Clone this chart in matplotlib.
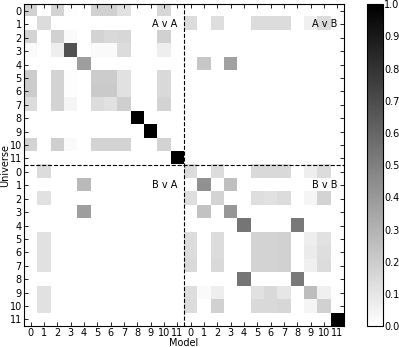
import numpy as np
import matplotlib
matplotlib.use('Agg')
import matplotlib.pyplot as plt

# class labels for the two universes (A: 0-11, B: 0-11)
labels = [str(i) for i in range(12)] * 2

# A v A block (universe A rows, model A columns)
a_v_a = [
    [0.18, 0, 0.17, 0.01, 0, 0.18, 0.18, 0.12, 0, 0, 0.16, 0],
    [0, 0.14, 0, 0, 0, 0, 0, 0, 0, 0, 0, 0],
    [0.17, 0, 0.18, 0.02, 0, 0.17, 0.15, 0.16, 0, 0, 0.18, 0],
    [0.02, 0, 0.07, 0.68, 0, 0.02, 0.02, 0.14, 0, 0, 0.07, 0],
    [0, 0, 0, 0, 0.38, 0, 0, 0, 0, 0, 0, 0],
    [0.20, 0, 0.17, 0.01, 0, 0.20, 0.20, 0.12, 0, 0, 0.15, 0],
    [0.20, 0, 0.17, 0.01, 0, 0.21, 0.21, 0.12, 0, 0, 0.15, 0],
    [0.14, 0, 0.17, 0.04, 0, 0.14, 0.12, 0.19, 0, 0, 0.17, 0],
    [0, 0, 0, 0, 0, 0, 0, 0, 1.0, 0, 0, 0],
    [0, 0, 0, 0, 0, 0, 0, 0, 0, 1.0, 0, 0],
    [0.17, 0, 0.19, 0.02, 0, 0.17, 0.17, 0.17, 0, 0, 0.17, 0],
    [0, 0, 0, 0, 0, 0, 0, 0, 0, 0, 0, 1.0],
]

# A v B block
a_v_b = [
    [0, 0, 0, 0, 0, 0, 0, 0, 0, 0, 0, 0],
    [0.14, 0, 0.13, 0, 0, 0.14, 0.14, 0.14, 0, 0.06, 0.14, 0],
    [0, 0, 0, 0, 0, 0, 0, 0, 0, 0, 0, 0],
    [0, 0, 0, 0, 0, 0, 0, 0, 0, 0, 0, 0],
    [0, 0.22, 0, 0.37, 0, 0, 0, 0, 0, 0, 0, 0],
    [0, 0, 0, 0, 0, 0, 0, 0, 0, 0, 0, 0],
    [0, 0, 0, 0, 0, 0, 0, 0, 0, 0, 0, 0],
    [0, 0, 0, 0, 0, 0, 0, 0, 0, 0, 0, 0],
    [0, 0, 0, 0, 0, 0, 0, 0, 0, 0, 0, 0],
    [0, 0, 0, 0, 0, 0, 0, 0, 0, 0, 0, 0],
    [0, 0, 0, 0, 0, 0, 0, 0, 0, 0, 0, 0],
    [0, 0, 0, 0, 0, 0, 0, 0, 0, 0, 0, 0],
]

# B v A block
b_v_a = [
    [0, 0.14, 0, 0, 0, 0, 0, 0, 0, 0, 0, 0],
    [0, 0, 0, 0, 0.27, 0, 0, 0, 0, 0, 0, 0],
    [0, 0.12, 0, 0, 0, 0, 0, 0, 0, 0, 0, 0],
    [0, 0, 0, 0, 0.38, 0, 0, 0, 0, 0, 0, 0],
    [0, 0, 0, 0, 0, 0, 0, 0, 0, 0, 0, 0],
    [0, 0.12, 0, 0, 0, 0, 0, 0, 0, 0, 0, 0],
    [0, 0.12, 0, 0, 0, 0, 0, 0, 0, 0, 0, 0],
    [0, 0.12, 0, 0, 0, 0, 0, 0, 0, 0, 0, 0],
    [0, 0, 0, 0, 0, 0, 0, 0, 0, 0, 0, 0],
    [0, 0.12, 0, 0, 0, 0, 0, 0, 0, 0, 0, 0],
    [0, 0.12, 0, 0, 0, 0, 0, 0, 0, 0, 0, 0],
    [0, 0, 0, 0, 0, 0, 0, 0, 0, 0, 0, 0],
]

# B v B block
b_v_b = [
    [0.14, 0, 0.14, 0, 0, 0.15, 0.15, 0.15, 0, 0.07, 0.14, 0],
    [0, 0.43, 0, 0.25, 0, 0, 0, 0, 0, 0, 0, 0],
    [0.13, 0, 0.17, 0, 0, 0.13, 0.12, 0.14, 0, 0.04, 0.17, 0],
    [0, 0.24, 0, 0.41, 0, 0, 0, 0, 0, 0, 0, 0],
    [0, 0, 0, 0, 0.54, 0, 0, 0, 0.52, 0, 0, 0],
    [0.14, 0, 0.14, 0, 0, 0.17, 0.17, 0.18, 0, 0.07, 0.12, 0],
    [0.14, 0, 0.14, 0, 0, 0.17, 0.17, 0.18, 0, 0.08, 0.13, 0],
    [0.15, 0, 0.15, 0, 0, 0.17, 0.17, 0.18, 0, 0.06, 0.14, 0],
    [0, 0, 0, 0, 0.54, 0, 0, 0, 0.52, 0, 0, 0],
    [0.13, 0.02, 0.07, 0, 0, 0.12, 0.15, 0.10, 0, 0.26, 0.06, 0],
    [0.14, 0, 0.18, 0, 0, 0.15, 0.15, 0.16, 0, 0.04, 0.18, 0],
    [0, 0, 0, 0, 0, 0, 0, 0, 0, 0, 0, 1.0],
]

block_names = ["A v A", "A v B", "B v A", "B v B"]

# stitch blocks together
mat = np.block([[np.array(a_v_a), np.array(a_v_b)],
                [np.array(b_v_a), np.array(b_v_b)]])
n = mat.shape[0]
half = n // 2

plt.rcParams['xtick.direction'] = 'in'
plt.rcParams['ytick.direction'] = 'in'
plt.rcParams['xtick.top'] = True
plt.rcParams['ytick.right'] = True

fs = 7

fig = plt.figure(figsize=(3.99, 3.47), dpi=100)
ax = fig.add_axes([0.060, 0.060, 0.802, 0.928])
im = ax.imshow(mat, cmap='gray_r', vmin=0, vmax=1, interpolation='nearest', aspect='auto')

# dashed block separators
ax.axvline(half - 0.5, color='k', ls='--', lw=0.8)
ax.axhline(half - 0.5, color='k', ls='--', lw=0.8)

# block captions
for i, name in enumerate(block_names):
    r, c = divmod(i, 2)
    ax.text(half - 1 + c * half, 1 + r * half, name, ha='right', va='center', fontsize=fs)

ax.set_xticks(range(n))
ax.set_yticks(range(n))
ax.set_xticklabels(labels, fontsize=fs)
ax.set_yticklabels(labels, fontsize=fs)
ax.tick_params(length=3, width=0.6, pad=1.5)
ax.set_xlabel("Model", fontsize=fs, labelpad=-0.5)
ax.set_ylabel("Universe", fontsize=fs, labelpad=-0.5)

cax = fig.add_axes([0.920, 0.060, 0.040, 0.928])
cb = fig.colorbar(im, cax=cax, ticks=np.arange(0, 1.01, 0.1))
cb.ax.tick_params(labelsize=fs, length=0, pad=1)
cb.ax.set_yticklabels([f"{t:.1f}" for t in np.arange(0, 1.01, 0.1)])

fig.savefig("out.png", dpi=100)
